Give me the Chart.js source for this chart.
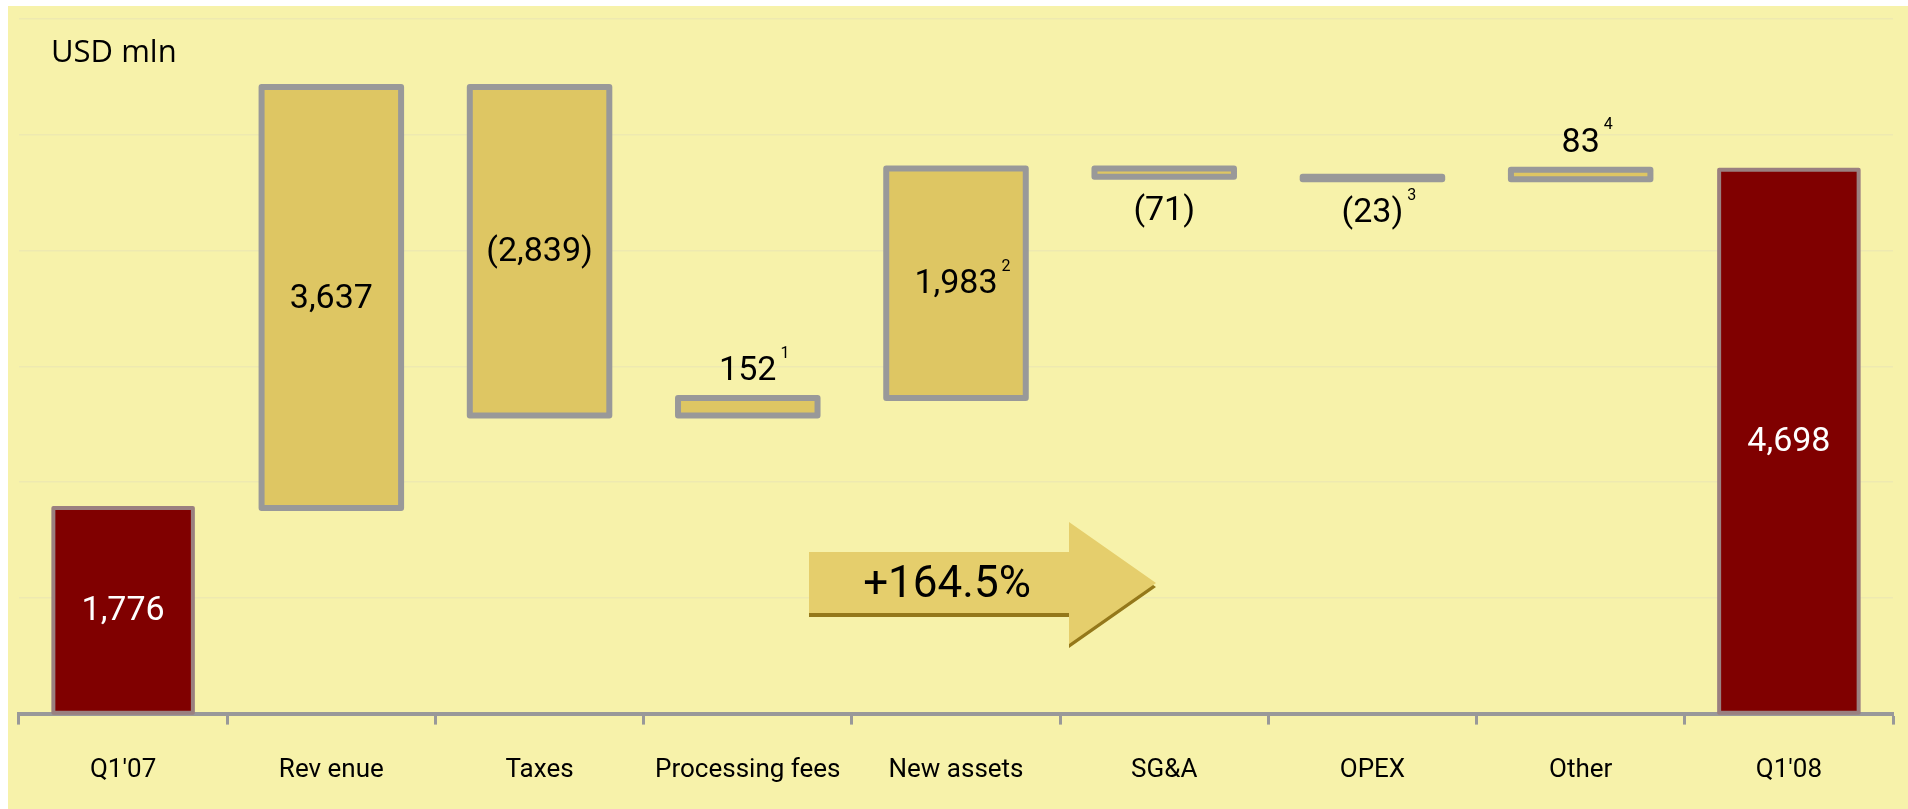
<!DOCTYPE html>
<html>
<head>
<meta charset="utf-8">
<script src="https://cdn.jsdelivr.net/npm/chart.js@4/dist/chart.umd.min.js"></script>
<style>
  html, body { margin: 0; padding: 0; background: #ffffff; }
  #wrap { position: absolute; left: 8px; top: 6px; width: 1900px; height: 803px; background: #F7F2AA; }
</style>
</head>
<body>
<div id="wrap"><canvas id="chart-bars"></canvas></div>
<script>
var categories = ["Q1'07", "Rev enue", "Taxes", "Processing fees", "New assets", "SG&A", "OPEX", "Other", "Q1'08"];
var startTotal = 1776;
var steps = [3637, -2839, 152, 1983, -71, -23, 83];
var endTotal = 4698;
var footnotes = ["", "", "", "1", "2", "", "3", "4", ""];
var yTicks = [0, 1000, 2000, 3000, 4000, 5000, 6000];
var unitLabel = "USD mln";
var growthLabel = "+164.5%";

// floating bars: the two totals stand on zero, each step starts where the previous one ended
var ranges = [[0, startTotal]];
var running = startTotal;
steps.forEach(function (s) {
  ranges.push([running, running + s]);
  running += s;
});
ranges.push([0, endTotal]);
var values = [startTotal].concat(steps, [endTotal]);
var isTotal = categories.map(function (c, i) { return i === 0 || i === categories.length - 1; });

function fmt(v) {
  var s = Math.abs(v).toLocaleString("en-US");
  return v < 0 ? "(" + s + ")" : s;
}

// grey outline centred on the bar edge, so very thin steps still show up
var outlines = {
  id: "outlines",
  afterDatasetsDraw: function (chart) {
    var ctx = chart.ctx;
    ctx.save();
    ctx.lineJoin = "round";
    chart.getDatasetMeta(0).data.forEach(function (bar, i) {
      var p = bar.getProps(["x", "y", "base", "width"], true);
      var top = Math.min(p.y, p.base);
      var h = Math.abs(p.base - p.y);
      ctx.lineWidth = isTotal[i] ? 4 : 6;
      ctx.strokeStyle = isTotal[i] ? "#9A8080" : "#999999";
      ctx.strokeRect(p.x - p.width / 2, top, p.width, h);
    });
    ctx.restore();
  }
};

var valueLabels = {
  id: "valueLabels",
  afterDatasetsDraw: function (chart) {
    var ctx = chart.ctx;
    var size = 34;
    ctx.save();
    chart.getDatasetMeta(0).data.forEach(function (bar, i) {
      var p = bar.getProps(["x", "y", "base"], true);
      var top = Math.min(p.y, p.base);
      var bottom = Math.max(p.y, p.base);
      var cy;
      if (bottom - top > 40) cy = (top + bottom) / 2 - 2;
      else if (values[i] > 0) cy = top - 30;
      else cy = bottom + 31;
      var text = fmt(values[i]);
      ctx.font = size + "px Roboto";
      ctx.textAlign = "center";
      ctx.textBaseline = "alphabetic";
      ctx.fillStyle = isTotal[i] ? "#ffffff" : "#000000";
      ctx.fillText(text, p.x, cy + size * 0.355);
      if (footnotes[i]) {
        var w = ctx.measureText(text).width;
        ctx.font = "16px Roboto";
        ctx.textAlign = "left";
        ctx.fillText(footnotes[i], p.x + w / 2 + 4, cy - 16 + 16 * 0.355);
      }
    });
    ctx.restore();
  }
};

// unit caption and the growth arrow
var extras = {
  id: "extras",
  afterDatasetsDraw: function (chart) {
    var ctx = chart.ctx;
    ctx.save();
    ctx.font = "31px 'Open Sans'";
    ctx.fillStyle = "#000000";
    ctx.textAlign = "left";
    ctx.textBaseline = "alphabetic";
    ctx.fillText(unitLabel, 43, 56);

    function arrow(dy) {
      ctx.beginPath();
      ctx.moveTo(801, 546 + dy);
      ctx.lineTo(1061, 546 + dy);
      ctx.lineTo(1061, 516 + dy);
      ctx.lineTo(1148, 577 + dy);
      ctx.lineTo(1061, 638 + dy);
      ctx.lineTo(1061, 607 + dy);
      ctx.lineTo(801, 607 + dy);
      ctx.closePath();
      ctx.fill();
    }
    ctx.fillStyle = "#94781A";
    arrow(4);
    ctx.fillStyle = "#E5CE6C";
    arrow(0);

    ctx.font = "44px Roboto";
    ctx.fillStyle = "#000000";
    ctx.textAlign = "center";
    ctx.fillText(growthLabel, 939, 591);
    ctx.restore();
  }
};

Chart.defaults.font.family = "Roboto";
Chart.defaults.color = "#000000";

var ctx = document.getElementById("chart-bars").getContext("2d");

new Chart(ctx, {
  type: "bar",
  data: {
    labels: categories,
    datasets: [
      {
        data: ranges,
        backgroundColor: isTotal.map(function (t) { return t ? "#800000" : "#DEC663"; }),
        borderWidth: 0,
        barPercentage: 0.67,
        categoryPercentage: 1.0,
      },
    ],
  },
  options: {
    responsive: true,
    maintainAspectRatio: false,
    animation: false,
    layout: {
      padding: { left: 11, right: 15, top: 13, bottom: -7 },
    },
    plugins: {
      legend: { display: false },
      tooltip: { enabled: false },
    },
    scales: {
      y: {
        min: yTicks[0],
        max: yTicks[yTicks.length - 1],
        ticks: {
          display: false,
          stepSize: yTicks[1] - yTicks[0],
        },
        border: { display: false },
        grid: {
          display: true,
          drawTicks: false,
          color: "#EEE9B0",
          lineWidth: 1.5,
        },
      },
      x: {
        border: {
          display: true,
          color: "#999999",
          width: 4,
        },
        grid: {
          display: true,
          drawOnChartArea: false,
          drawTicks: true,
          tickLength: 11,
          tickWidth: 3,
          tickColor: "#999999",
          offset: true,
        },
        ticks: {
          padding: 34,
          maxRotation: 0,
          autoSkip: false,
          font: { size: 26, lineHeight: 0.9 },
          color: "#000000",
        },
      },
    },
  },
  plugins: [outlines, valueLabels, extras],
});
</script>
</body>
</html>
